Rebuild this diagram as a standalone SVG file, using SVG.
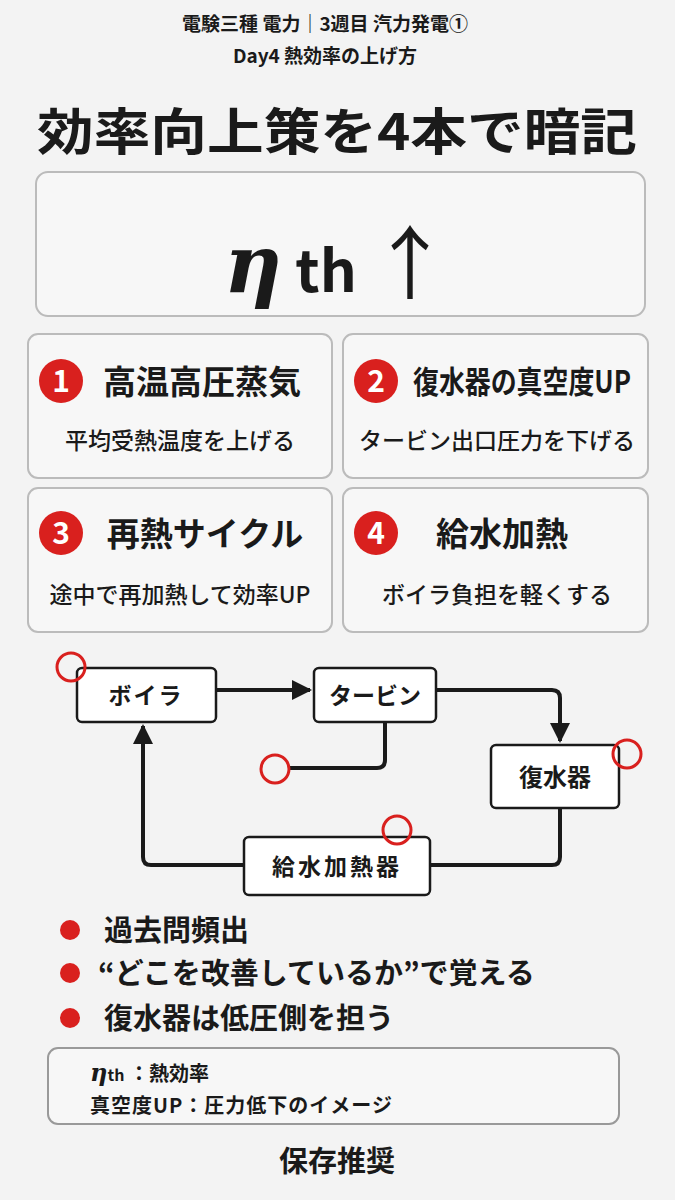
<svg xmlns="http://www.w3.org/2000/svg" width="675" height="1200" viewBox="0 0 675 1200">
<defs>
<style>
text{font-family:"Noto Sans CJK JP","Noto Sans",sans-serif;font-weight:700;fill:#1a1a1a}
.card{fill:#f7f7f7;stroke:#bbb;stroke-width:2}
.node{fill:#fff;stroke:#1a1a1a;stroke-width:2.5}
.ring{fill:none;stroke:#d9201e;stroke-width:3}
.wire{fill:none;stroke:#1a1a1a;stroke-width:4;stroke-linejoin:round}
.h{font-size:33px}
.s{font-size:23px;font-weight:500}
.num{fill:#d9201e}
.numt{fill:#fff;font-size:30px;text-anchor:middle}
</style>
<marker id="ah" viewBox="0 0 10 10" refX="9" refY="5" markerWidth="5" markerHeight="5" orient="auto-start-reverse"><path d="M0,0L10,5L0,10z" fill="#1a1a1a"/></marker>
</defs>
<rect width="675" height="1200" fill="#f3f3f3"/>
<g id="header">
<text x="325" y="31" font-size="19" text-anchor="middle">電験三種 電力｜3週目 汽力発電①</text>
<text x="325" y="63" font-size="19" text-anchor="middle">Day4 熱効率の上げ方</text>
<text x="337" y="150" font-size="50" font-weight="900" text-anchor="middle" textLength="600" lengthAdjust="spacingAndGlyphs">効率向上策を4本で暗記</text>
</g>
<g id="eta">
<rect x="36" y="172" width="609" height="144" rx="12" class="card"/>
<text x="337" y="292" text-anchor="middle"><tspan font-size="80" font-family="DejaVu Serif,serif" font-style="italic">η</tspan><tspan font-size="58"> th </tspan><tspan font-size="80" font-weight="400">↑</tspan></text>
</g>
<g id="card1"><rect x="28" y="334" width="304" height="144" rx="10" class="card"/>
<circle cx="61" cy="381" r="22" class="num"/><text x="61" y="392" class="numt">1</text>
<text x="202" y="394" class="h" text-anchor="middle">高温高圧蒸気</text>
<text x="180" y="449" class="s" text-anchor="middle">平均受熱温度を上げる</text></g>
<g id="card2"><rect x="343" y="334" width="305" height="144" rx="10" class="card"/>
<circle cx="376" cy="381" r="22" class="num"/><text x="376" y="392" class="numt">2</text>
<text x="413" y="393" font-size="31" textLength="218" lengthAdjust="spacingAndGlyphs">復水器の真空度UP</text>
<text x="497" y="449" class="s" text-anchor="middle">タービン出口圧力を下げる</text></g>
<g id="card3"><rect x="28" y="488" width="304" height="144" rx="10" class="card"/>
<circle cx="61" cy="533" r="22" class="num"/><text x="61" y="544" class="numt">3</text>
<text x="205" y="546" class="h" text-anchor="middle">再熱サイクル</text>
<text x="180" y="603" class="s" text-anchor="middle">途中で再加熱して効率UP</text></g>
<g id="card4"><rect x="343" y="488" width="305" height="144" rx="10" class="card"/>
<circle cx="376" cy="533" r="22" class="num"/><text x="376" y="544" class="numt">4</text>
<text x="502" y="546" class="h" text-anchor="middle">給水加熱</text>
<text x="497" y="603" class="s" text-anchor="middle">ボイラ負担を軽くする</text></g>
<g id="connectors">
<path d="M216,690H310" class="wire" marker-end="url(#ah)"/>
<path d="M436,690H552Q560,690 560,698V741" class="wire" marker-end="url(#ah)"/>
<path d="M385,722V760Q385,768 377,768H290" class="wire"/>
<path d="M560,808V857Q560,865 552,865H430" class="wire"/>
<path d="M244,865H151Q143,865 143,857V726" class="wire" marker-end="url(#ah)"/>
</g>
<g id="boiler"><rect x="77" y="668" width="139" height="54" rx="5" class="node"/><text x="146" y="704" font-size="23" text-anchor="middle" letter-spacing="2">ボイラ</text></g>
<g id="turbine"><rect x="314" y="668" width="122" height="54" rx="5" class="node"/><text x="375" y="704" font-size="23" text-anchor="middle">タービン</text></g>
<g id="condenser"><rect x="491" y="745" width="128" height="63" rx="5" class="node"/><text x="555" y="786" font-size="24" text-anchor="middle">復水器</text></g>
<g id="heater"><rect x="244" y="837" width="186" height="58" rx="5" class="node"/><text x="337" y="875" font-size="23" text-anchor="middle" letter-spacing="3">給水加熱器</text></g>
<g id="rings">
<circle cx="71" cy="667" r="14" class="ring"/>
<circle cx="275" cy="769" r="14" class="ring"/>
<circle cx="627" cy="754" r="14" class="ring"/>
<circle cx="397" cy="830" r="14" class="ring"/>
</g>
<g id="bullets">
<circle cx="70" cy="930" r="10" fill="#d9201e"/><text x="104" y="941" font-size="29">過去問頻出</text>
<circle cx="70" cy="973" r="10" fill="#d9201e"/><text x="98" y="984" font-size="29">“どこを改善しているか”で覚える</text>
<circle cx="70" cy="1018" r="10" fill="#d9201e"/><text x="104" y="1029" font-size="29">復水器は低圧側を担う</text>
</g>
<g id="legend">
<rect x="48" y="1048" width="571" height="76" rx="10" fill="#f7f7f7" stroke="#999" stroke-width="2"/>
<text x="90" y="1081" font-size="20"><tspan font-family="DejaVu Serif,serif" font-style="italic" font-size="24">η</tspan><tspan font-size="16">th</tspan> ：熱効率</text>
<text x="90" y="1113" font-size="20" letter-spacing="1">真空度UP：圧力低下のイメージ</text>
</g>
<text x="337" y="1172" font-size="29" text-anchor="middle">保存推奨</text>
</svg>
